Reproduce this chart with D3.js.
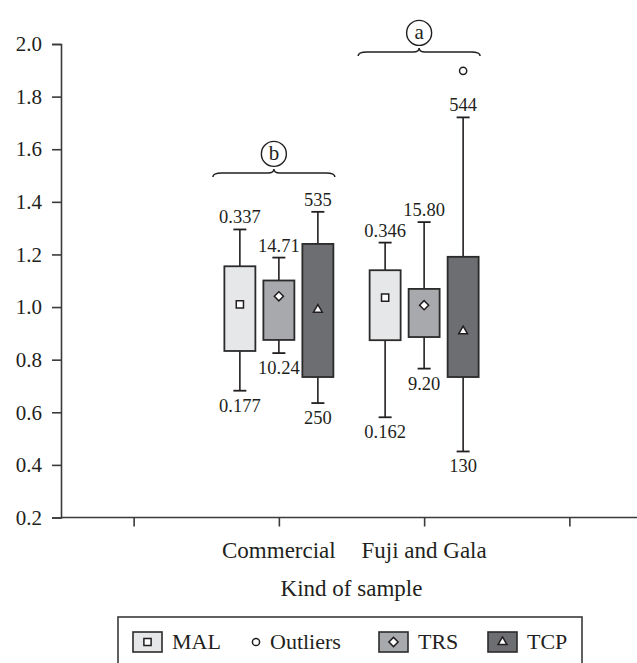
<!DOCTYPE html>
<html>
<head>
<meta charset="utf-8">
<script src="https://cdn.jsdelivr.net/npm/d3@7"></script>
<style>
  body { margin: 0; background: #fff; }
  text { font-family: "Liberation Serif", "DejaVu Serif", serif; fill: #231f20; }
</style>
</head>
<body>
<div id="plot"></div>
<script>
// groups and series
let groups = ["Commercial", "Fuji and Gala"];
let series = ["MAL", "TRS", "TCP"];
let yTicks = [0.2, 0.4, 0.6, 0.8, 1.0, 1.2, 1.4, 1.6, 1.8, 2.0];

// box values, one row per group, one entry per series
let whiskerLow  = [[0.682, 0.825, 0.635], [0.581, 0.766, 0.451]];
let q1          = [[0.833, 0.875, 0.734], [0.874, 0.886, 0.734]];
let q3          = [[1.155, 1.101, 1.240], [1.140, 1.069, 1.191]];
let whiskerHigh = [[1.295, 1.188, 1.362], [1.245, 1.323, 1.721]];
let means       = [[1.010, 1.041, 0.990], [1.036, 1.007, 0.908]];
let topLabels    = [["0.337", "14.71", "535"], ["0.346", "15.80", "544"]];
let bottomLabels = [["0.177", "10.24", "250"], ["0.162", "9.20", "130"]];
// outlier: group, series, value
let outliers = [["Fuji and Gala", "TCP", 1.898]];
// significance letters over each group
let groupLetters = ["b", "a"];
let braceLevel = [1.51, 1.97];

let colors = { MAL: "#e6e7e8", TRS: "#a7a9ac", TCP: "#6d6e71" };
let ink = "#231f20";

let svgWidth = 637;
let svgHeight = 663;

let svg = d3.select('#plot')
    .append('svg')
    .attr('width', svgWidth)
    .attr('height', svgHeight);

let y = d3.scaleLinear().domain([0.2, 2.0]).range([517.5, 44]);

// outer slots: blank | Commercial | Fuji and Gala | blank
let slots = ["s0"].concat(groups).concat(["s3"]);
let x = d3.scalePoint().domain(slots).range([61, 642]).padding(0.5);
let xs = d3.scalePoint().domain(series).range([-39, 39]);
let boxW = 31;
let capW = 13;

// y axis
let yAxis = svg.append('g')
    .attr('transform', 'translate(61,0)')
    .call(d3.axisLeft(y).tickValues(yTicks).tickFormat(d3.format('.1f')).tickSize(9).tickSizeOuter(9).tickPadding(10));
yAxis.select('.domain').attr('stroke', '#3a3a3a').attr('stroke-width', 1.6);
yAxis.selectAll('.tick line').attr('stroke', '#3a3a3a').attr('stroke-width', 1.6);
yAxis.selectAll('.tick text')
    .attr('font-family', '"Liberation Serif", serif')
    .attr('font-size', 21)
    .attr('fill', ink);

// x axis
let xAxis = svg.append('g')
    .attr('transform', 'translate(0,517.5)')
    .call(d3.axisBottom(x).tickSize(9).tickSizeOuter(0).tickFormat(''));
xAxis.select('.domain').remove();
xAxis.append('line')
    .attr('x1', 61).attr('x2', 637)
    .attr('stroke', '#3a3a3a').attr('stroke-width', 1.6);
xAxis.selectAll('.tick line').attr('stroke', '#3a3a3a').attr('stroke-width', 1.6);

svg.selectAll('.cat-label').data(groups).enter()
    .append('text')
    .attr('class', 'cat-label')
    .attr('x', d => x(d))
    .attr('y', 558)
    .attr('text-anchor', 'middle')
    .attr('font-size', 23)
    .text(d => d);

svg.append('text')
    .attr('x', (x(groups[0]) + x(groups[1])) / 2)
    .attr('y', 596)
    .attr('text-anchor', 'middle')
    .attr('font-size', 23)
    .text('Kind of sample');

// flatten boxes
let boxes = [];
groups.forEach(function(g, gi){
    series.forEach(function(s, si){
        boxes.push({
            group: g, series: s,
            lo: whiskerLow[gi][si], q1: q1[gi][si], q3: q3[gi][si],
            hi: whiskerHigh[gi][si], mean: means[gi][si],
            top: topLabels[gi][si], bottom: bottomLabels[gi][si]
        });
    });
});

let cx = d => x(d.group) + xs(d.series);

let box = svg.selectAll('.box').data(boxes).enter()
    .append('g').attr('class', 'box');

// whiskers
box.append('line')
    .attr('x1', cx).attr('x2', cx)
    .attr('y1', d => y(d.hi)).attr('y2', d => y(d.q3))
    .attr('stroke', ink).attr('stroke-width', 1.6);
box.append('line')
    .attr('x1', cx).attr('x2', cx)
    .attr('y1', d => y(d.q1)).attr('y2', d => y(d.lo))
    .attr('stroke', ink).attr('stroke-width', 1.6);
box.append('line')
    .attr('x1', d => cx(d) - capW / 2).attr('x2', d => cx(d) + capW / 2)
    .attr('y1', d => y(d.hi)).attr('y2', d => y(d.hi))
    .attr('stroke', ink).attr('stroke-width', 1.8);
box.append('line')
    .attr('x1', d => cx(d) - capW / 2).attr('x2', d => cx(d) + capW / 2)
    .attr('y1', d => y(d.lo)).attr('y2', d => y(d.lo))
    .attr('stroke', ink).attr('stroke-width', 1.8);

// boxes
box.append('rect')
    .attr('x', d => cx(d) - boxW / 2)
    .attr('y', d => y(d.q3))
    .attr('width', boxW)
    .attr('height', d => y(d.q1) - y(d.q3))
    .attr('fill', d => colors[d.series])
    .attr('stroke', '#2b2b2b')
    .attr('stroke-width', 1.8);

// mean markers: square, rotated square, small triangle
let symbolFor = { MAL: d3.symbolSquare, TRS: d3.symbolSquare, TCP: d3.symbolTriangle };
let symbolSize = { MAL: 52, TRS: 42, TCP: 34 };
let symbolRot = { MAL: 0, TRS: 45, TCP: 0 };
function marker(sel, k){
    sel.attr('d', d3.symbol().type(symbolFor[k]).size(symbolSize[k])())
        .attr('fill', '#fff')
        .attr('stroke', ink)
        .attr('stroke-width', 1.5);
}
box.each(function(d){
    d3.select(this).append('path')
        .attr('transform', `translate(${cx(d)},${y(d.mean)}) rotate(${symbolRot[d.series]})`)
        .call(marker, d.series);
});

// value labels
box.append('text')
    .attr('x', cx)
    .attr('y', d => y(d.hi) - 6)
    .attr('text-anchor', 'middle')
    .attr('font-size', 18.5)
    .text(d => d.top);
box.append('text')
    .attr('x', cx)
    .attr('y', d => y(d.lo) + 21)
    .attr('text-anchor', 'middle')
    .attr('font-size', 18.5)
    .text(d => d.bottom);

// outliers
svg.selectAll('.outlier').data(outliers).enter()
    .append('circle')
    .attr('class', 'outlier')
    .attr('cx', d => x(d[0]) + xs(d[1]))
    .attr('cy', d => y(d[2]))
    .attr('r', 3.6)
    .attr('fill', '#fff')
    .attr('stroke', ink)
    .attr('stroke-width', 1.5);

// braces with letters
function bracePath(x1, x2, yy){
    let xm = (x1 + x2) / 2;
    return `M${x1},${yy + 4} Q${x1},${yy} ${x1 + 9},${yy} L${xm - 6},${yy} Q${xm},${yy} ${xm},${yy - 4} ` +
           `Q${xm},${yy} ${xm + 6},${yy} L${x2 - 9},${yy} Q${x2},${yy} ${x2},${yy + 4}`;
}
groups.forEach(function(g, gi){
    let c = x(g) - 5;
    let by = y(braceLevel[gi]);
    svg.append('path')
        .attr('d', bracePath(c - 61, c + 61, by))
        .attr('fill', 'none')
        .attr('stroke', ink)
        .attr('stroke-width', 1.5);
    svg.append('circle')
        .attr('cx', c).attr('cy', by - 19)
        .attr('r', 12.5)
        .attr('fill', 'none')
        .attr('stroke', ink)
        .attr('stroke-width', 1.4);
    svg.append('text')
        .attr('x', c).attr('y', by - 13)
        .attr('text-anchor', 'middle')
        .attr('font-size', 21)
        .text(groupLetters[gi]);
});

// legend
let legendItems = ["MAL", "Outliers", "TRS", "TCP"];
let legendX = [133, 250, 379, 488];
let legend = svg.append('g');
legend.append('rect')
    .attr('x', 118).attr('y', 617)
    .attr('width', 464).attr('height', 80)
    .attr('fill', 'none')
    .attr('stroke', '#3a3a3a')
    .attr('stroke-width', 1.6);
legendItems.forEach(function(k, i){
    let lx = legendX[i];
    if (k === "Outliers") {
        legend.append('circle')
            .attr('cx', lx + 6).attr('cy', 642)
            .attr('r', 3.6)
            .attr('fill', '#fff').attr('stroke', ink).attr('stroke-width', 1.5);
        legend.append('text')
            .attr('x', lx + 20).attr('y', 648.5)
            .attr('font-size', 22)
            .text(k);
    } else {
        legend.append('rect')
            .attr('x', lx).attr('y', 632)
            .attr('width', 29).attr('height', 20)
            .attr('fill', colors[k])
            .attr('stroke', '#2b2b2b').attr('stroke-width', 1.6);
        legend.append('path')
            .attr('transform', `translate(${lx + 14.5},642) rotate(${symbolRot[k]})`)
            .call(marker, k);
        legend.append('text')
            .attr('x', lx + 39).attr('y', 648.5)
            .attr('font-size', 22)
            .text(k);
    }
});
</script>
</body>
</html>
